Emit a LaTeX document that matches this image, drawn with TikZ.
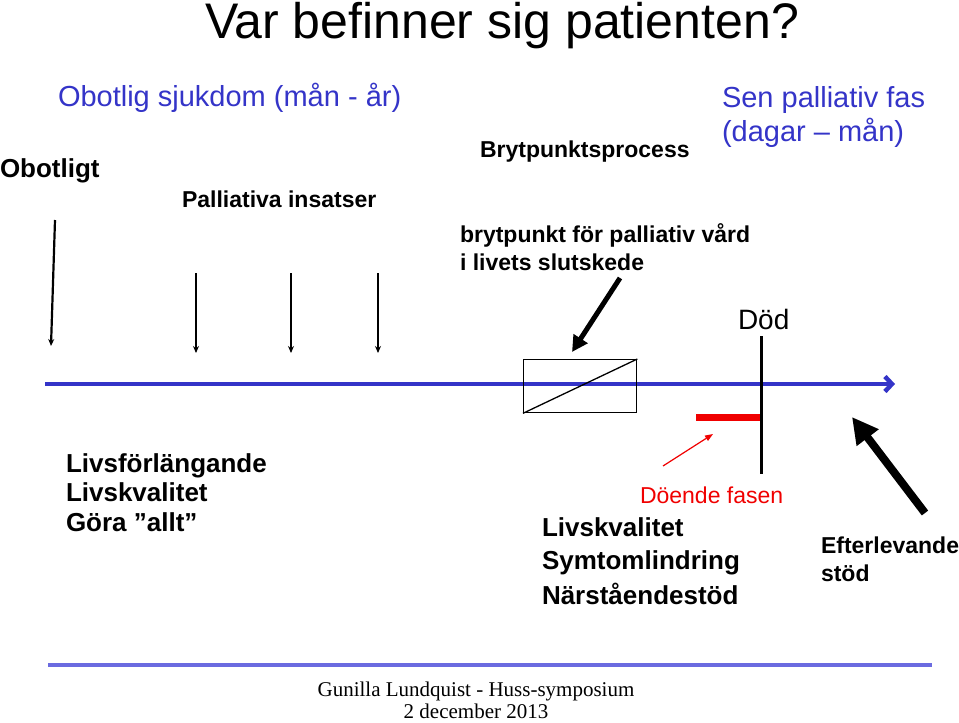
\documentclass[tikz,border=0pt]{standalone}
\usepackage{fontspec}
\setmainfont{Liberation Sans}
\newfontfamily\footfont{Liberation Serif}
\usetikzlibrary{arrows.meta}
\definecolor{tblue}{HTML}{3434C8}
\definecolor{lblue}{HTML}{6B6BE0}
\definecolor{tred}{HTML}{F00000}
\tikzset{
  txt/.style={anchor=base west, inner sep=0pt, outer sep=0pt},
  bl/.style={txt, font=\bfseries\fontsize{23}{28}\selectfont},
  bll/.style={txt, font=\bfseries\fontsize{26}{31}\selectfont},
  rg/.style={txt, font=\fontsize{29}{34}\selectfont},
  thinarr/.style={-{Stealth[length=7pt,width=6pt]}, line width=2.2pt},
}
\begin{document}
\begin{tikzpicture}[x=1pt,y=-1pt]
\useasboundingbox (0,0) rectangle (959,723);
% title
\node[txt, font=\fontsize{50}{60}\selectfont] (title) at (205,38) {Var befinner sig patienten?};
\node[rg, text=tblue] (obotsj) at (58,106) {Obotlig sjukdom (mån - år)};
\node[bll] (obotligt) at (0,177) {Obotligt};
\node[bl] (pall) at (182,207) {Palliativa insatser};
\node[bl] (bryt) at (480,157) {Brytpunktsprocess};
\node[rg, text=tblue] (sen1) at (722,107) {Sen palliativ fas};
\node[rg, text=tblue] (sen2) at (722,141) {(dagar – mån)};
\node[bl] (bp1) at (460,242) {brytpunkt för palliativ vård};
\node[bl] (bp2) at (460,270) {i livets slutskede};
\node[txt, font=\fontsize{28}{33}\selectfont] (dod) at (738,329) {Död};
% left arrows
\coordinate (a1s) at (55,220); \coordinate (a1e) at (51,346);
\coordinate (a2s) at (196,273); \coordinate (a2e) at (196,353);
\coordinate (a3s) at (291,273); \coordinate (a3e) at (291,353);
\coordinate (a4s) at (378,273); \coordinate (a4e) at (378,353);
\draw[thinarr] (a1s) -- (a1e);
\draw[thinarr] (a2s) -- (a2e);
\draw[thinarr] (a3s) -- (a3e);
\draw[thinarr] (a4s) -- (a4e);
% timeline
\coordinate (tl0) at (45,384); \coordinate (tl1) at (895,384);
\draw[tblue, line width=4.5pt, -{Straight Barb[length=7pt,width=15pt,line width=4.5pt]}] (tl0) -- (tl1);
% box
\node[draw, line width=1.3pt, minimum width=113pt, minimum height=53pt, inner sep=0pt, anchor=north west] (box) at (523,359) {};
\draw[line width=1.3pt] (box.south west) -- (box.north east);
% black arrow to box
\coordinate (ba0) at (620,278); \coordinate (ba1) at (572,352);
\draw[line width=5pt, -{Triangle[length=16pt,width=16pt]}] (ba0) -- (ba1);
% death line
\coordinate (d0) at (761,336); \coordinate (d1) at (761,474);
\draw[line width=3pt] (d0) -- (d1);
% red bar
\coordinate (r0) at (696,417); \coordinate (r1) at (760,417);
\draw[tred, line width=7pt] (r0) -- (r1);
\coordinate (ra0) at (663,466); \coordinate (ra1) at (713,434);
\draw[tred, line width=1.2pt, -{Triangle[length=8pt,width=6pt]}] (ra0) -- (ra1);
% big arrow
\coordinate (bb0) at (925,513); \coordinate (bb1) at (852,417);
\draw[line width=8pt, -{Triangle[length=26pt,width=26pt]}] (bb0) -- (bb1);
% lower texts
\node[bll] (lf) at (66,472) {Livsförlängande};
\node[bll] (lk) at (66,501) {Livskvalitet};
\node[bll] (ga) at (66,531) {Göra ”allt”};
\node[txt, text=tred, font=\fontsize{23}{28}\selectfont] (df) at (640,503) {Döende fasen};
\node[bll] (lk2) at (542,536) {Livskvalitet};
\node[bll] (sl) at (542,569) {Symtomlindring};
\node[bll] (ns) at (542,604) {Närståendestöd};
\node[bl] (ef1) at (821,553) {Efterlevande};
\node[bl] (ef2) at (821,581) {stöd};
% footer
\coordinate (f0) at (48,665); \coordinate (f1) at (932,665);
\draw[lblue, line width=4pt] (f0) -- (f1);
\node[anchor=base, inner sep=0pt, font=\footfont\fontsize{21}{25}\selectfont] (ft1) at (476,696) {Gunilla Lundquist - Huss-symposium};
\node[anchor=base, inner sep=0pt, font=\footfont\fontsize{21}{25}\selectfont] (ft2) at (476,718) {2 december 2013};
\end{tikzpicture}
\end{document}
